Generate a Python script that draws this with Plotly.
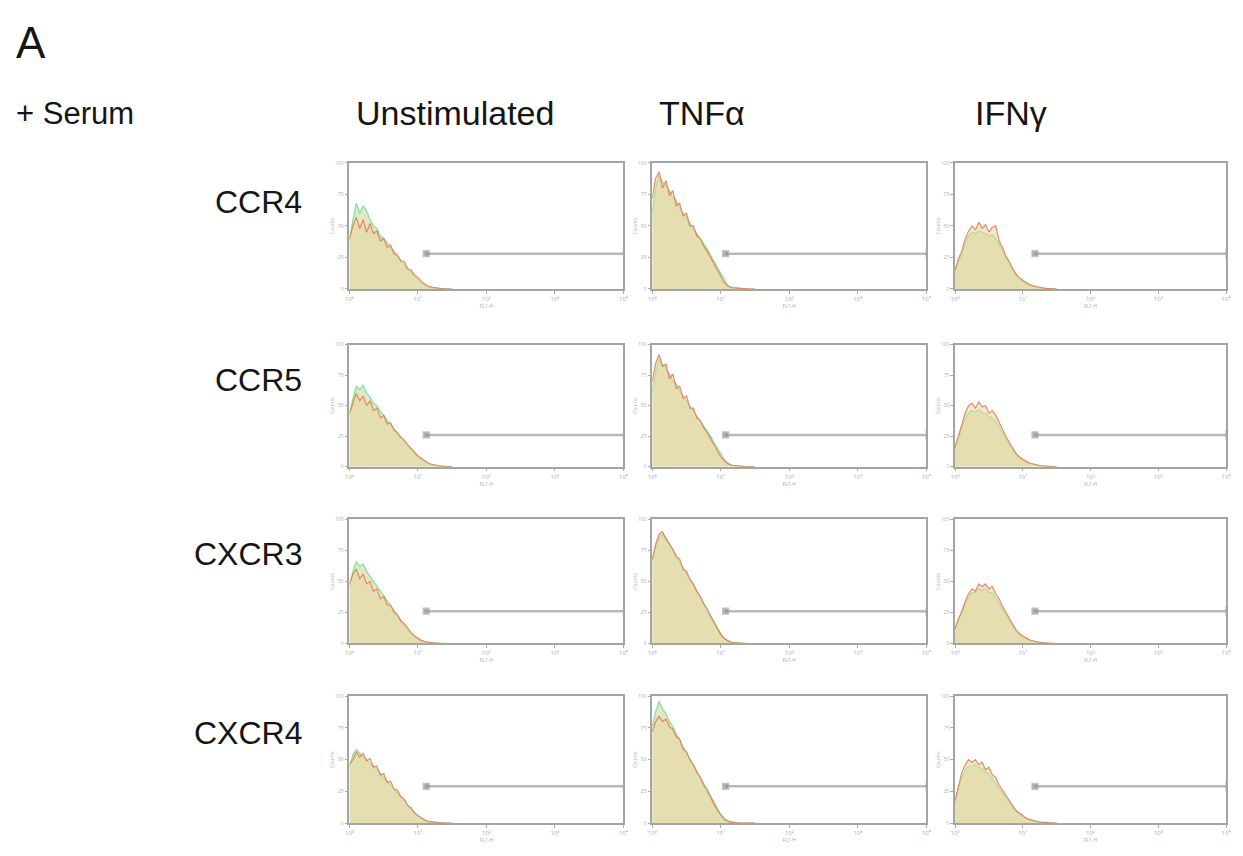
import plotly.graph_objects as go

W, H = 1243, 856

# ---------------- data ----------------
COLS = ["Unstimulated", "TNFα", "IFNγ"]
ROWS = ["CCR4", "CCR5", "CXCR3", "CXCR4"]

# log10 fluorescence positions of histogram channels
LOG_POS = [0.00, 0.05, 0.10, 0.15, 0.20, 0.25, 0.30, 0.35, 0.40, 0.45,
           0.50, 0.55, 0.60, 0.65, 0.70, 0.75, 0.80, 0.85, 0.90, 0.95,
           1.00, 1.05, 1.10, 1.15, 1.20, 1.25, 1.30, 1.35, 1.40, 1.45, 1.50]

# stained sample (orange) and control (green) counts, % of axis max
ccr4_unstim_stain = [40, 50, 57, 48, 55, 45, 52, 44, 46, 38, 40, 33, 35, 28, 27, 22, 22, 16, 15, 11, 9, 6, 4, 2, 1.5, 1, 0.6, 0.4, 0.2, 0.1, 0]
ccr4_unstim_ctrl = [38, 55, 68, 60, 66, 62, 55, 50, 48, 42, 40, 36, 33, 30, 26, 23, 19, 16, 13, 10, 8, 5, 3, 2, 1, 0.6, 0.4, 0.2, 0.1, 0, 0]
ccr4_tnf_stain = [72, 88, 93, 80, 86, 74, 78, 66, 68, 58, 60, 50, 50, 42, 40, 34, 30, 25, 20, 14, 9, 5, 2.5, 1.2, 0.8, 0.5, 0.3, 0.2, 0.1, 0, 0]
ccr4_tnf_ctrl = [60, 80, 90, 85, 82, 78, 72, 70, 64, 60, 55, 52, 47, 44, 40, 36, 32, 27, 22, 17, 12, 7, 3, 1.5, 1, 0.5, 0.3, 0.1, 0, 0, 0]
ccr4_ifn_stain = [15, 24, 30, 40, 46, 50, 47, 53, 48, 51, 45, 49, 50, 38, 33, 26, 22, 16, 12, 9, 7, 5, 3.5, 2.5, 1.8, 1.2, 0.8, 0.5, 0.3, 0.1, 0]
ccr4_ifn_ctrl = [14, 22, 28, 36, 42, 45, 44, 46, 45, 44, 42, 43, 40, 35, 30, 25, 20, 15, 11, 8, 6, 4, 3, 2, 1.5, 1, 0.6, 0.3, 0.2, 0.1, 0]

ccr5_unstim_stain = [44, 52, 60, 54, 58, 50, 54, 46, 48, 40, 42, 35, 36, 30, 28, 24, 22, 18, 15, 12, 9, 7, 5, 3, 2, 1.2, 0.8, 0.5, 0.3, 0.1, 0]
ccr5_unstim_ctrl = [42, 56, 66, 63, 67, 60, 57, 52, 50, 45, 42, 38, 35, 31, 27, 24, 20, 17, 14, 11, 8, 6, 4, 2.5, 1.5, 1, 0.6, 0.3, 0.1, 0, 0]
ccr5_tnf_stain = [70, 85, 92, 82, 84, 72, 76, 64, 66, 56, 58, 48, 48, 40, 38, 32, 28, 23, 18, 13, 8, 5, 2.5, 1.2, 0.8, 0.5, 0.3, 0.2, 0.1, 0, 0]
ccr5_tnf_ctrl = [62, 78, 88, 84, 80, 76, 70, 68, 62, 58, 54, 50, 46, 42, 38, 34, 30, 25, 20, 15, 10, 6, 3, 1.5, 1, 0.5, 0.3, 0.1, 0, 0, 0]
ccr5_ifn_stain = [16, 26, 34, 44, 50, 52, 48, 53, 49, 50, 44, 46, 42, 36, 30, 25, 20, 15, 11, 8, 6, 4.5, 3, 2.2, 1.5, 1, 0.7, 0.4, 0.2, 0.1, 0]
ccr5_ifn_ctrl = [15, 24, 32, 40, 44, 46, 45, 47, 44, 44, 41, 40, 37, 32, 28, 23, 18, 14, 10, 7, 5, 3.5, 2.5, 1.8, 1.2, 0.8, 0.5, 0.3, 0.1, 0, 0]

cxcr3_unstim_stain = [48, 56, 60, 52, 56, 48, 50, 42, 44, 36, 38, 31, 31, 25, 23, 18, 16, 12, 9, 6, 4, 2.5, 1.5, 1, 0.6, 0.4, 0.2, 0.1, 0, 0, 0]
cxcr3_unstim_ctrl = [46, 58, 66, 62, 64, 58, 54, 50, 46, 42, 38, 34, 30, 26, 22, 18, 15, 11, 8, 5.5, 3.5, 2.2, 1.3, 0.8, 0.5, 0.3, 0.1, 0, 0, 0, 0]
cxcr3_tnf_stain = [68, 80, 88, 90, 84, 80, 76, 70, 68, 60, 58, 52, 48, 42, 38, 32, 28, 22, 17, 12, 7, 4, 2, 1, 0.6, 0.4, 0.2, 0.1, 0, 0, 0]
cxcr3_tnf_ctrl = [66, 78, 86, 88, 85, 80, 75, 70, 66, 61, 56, 51, 47, 42, 37, 32, 27, 22, 17, 12, 8, 4.5, 2.5, 1.2, 0.7, 0.4, 0.2, 0.1, 0, 0, 0]
cxcr3_ifn_stain = [12, 20, 26, 34, 40, 44, 42, 48, 46, 48, 44, 46, 40, 36, 30, 25, 20, 15, 11, 8, 6, 4.5, 3, 2, 1.4, 1, 0.6, 0.4, 0.2, 0.1, 0]
cxcr3_ifn_ctrl = [12, 18, 25, 32, 37, 41, 41, 44, 43, 44, 41, 41, 37, 33, 28, 23, 18, 14, 10, 7, 5, 3.5, 2.5, 1.6, 1.1, 0.7, 0.4, 0.2, 0.1, 0, 0]

cxcr4_unstim_stain = [46, 50, 56, 52, 55, 49, 51, 44, 45, 38, 39, 32, 33, 27, 26, 21, 19, 14, 12, 8, 6, 4, 2.5, 1.5, 1, 0.6, 0.4, 0.2, 0.1, 0, 0]
cxcr4_unstim_ctrl = [44, 54, 58, 55, 52, 50, 47, 45, 42, 39, 36, 33, 30, 27, 24, 21, 18, 14, 11, 8, 5.5, 3.5, 2.2, 1.3, 0.8, 0.5, 0.3, 0.1, 0, 0, 0]
cxcr4_tnf_stain = [72, 80, 84, 80, 82, 76, 74, 68, 66, 58, 56, 50, 46, 40, 36, 30, 26, 20, 15, 10, 6, 3, 1.5, 0.8, 0.5, 0.3, 0.2, 0.1, 0, 0, 0]
cxcr4_tnf_ctrl = [76, 88, 96, 90, 86, 80, 76, 70, 66, 60, 56, 50, 46, 41, 36, 31, 26, 21, 16, 11, 7, 4, 2, 1, 0.5, 0.3, 0.1, 0, 0, 0, 0]
cxcr4_ifn_stain = [18, 30, 40, 46, 50, 48, 50, 46, 48, 42, 44, 38, 36, 30, 26, 22, 18, 14, 10, 8, 6, 4, 3, 2, 1.4, 1, 0.6, 0.3, 0.2, 0.1, 0]
cxcr4_ifn_ctrl = [16, 28, 36, 42, 45, 45, 46, 44, 43, 40, 39, 35, 32, 28, 24, 20, 16, 12, 9, 7, 5, 3.5, 2.5, 1.6, 1.1, 0.7, 0.4, 0.2, 0.1, 0, 0]

STAIN = [[ccr4_unstim_stain, ccr4_tnf_stain, ccr4_ifn_stain],
         [ccr5_unstim_stain, ccr5_tnf_stain, ccr5_ifn_stain],
         [cxcr3_unstim_stain, cxcr3_tnf_stain, cxcr3_ifn_stain],
         [cxcr4_unstim_stain, cxcr4_tnf_stain, cxcr4_ifn_stain]]
CTRL = [[ccr4_unstim_ctrl, ccr4_tnf_ctrl, ccr4_ifn_ctrl],
        [ccr5_unstim_ctrl, ccr5_tnf_ctrl, ccr5_ifn_ctrl],
        [cxcr3_unstim_ctrl, cxcr3_tnf_ctrl, cxcr3_ifn_ctrl],
        [cxcr4_unstim_ctrl, cxcr4_tnf_ctrl, cxcr4_ifn_ctrl]]

# marker gate (M1): start (log10) per column and level per row
GATE_START = [1.12, 1.07, 1.18]
GATE_LEVEL = [28, 26, 26, 29]
GATE_END = 4.0

X_TICKS = [1, 10, 100, 1000, 10000]
X_TICKTEXT = ["10⁰", "10¹", "10²", "10³", "10⁴"]
Y_TICKS = [0, 25, 50, 75, 100]
Y_TICKTEXT = ["0", "25", "50", "75", "100"]

# ---------------- layout geometry (pixels) ----------------
COL_PX = [(348, 624), (653, 929), (958, 1231)]
ROW_PX = [(161, 288), (344, 467), (520, 645), (698, 826)]

FONT = "Liberation Sans, Arial, sans-serif"

fig = go.Figure()
layout = dict(
    width=W, height=H, margin=dict(l=0, r=0, t=0, b=0),
    paper_bgcolor="white", plot_bgcolor="white", showlegend=False,
)

xs = [10 ** p for p in LOG_POS]
k = 0
for r in range(len(ROWS)):
    for c in range(len(COLS)):
        k += 1
        xa = "x" if k == 1 else f"x{k}"
        ya = "y" if k == 1 else f"y{k}"
        x0, x1 = COL_PX[c]
        y0, y1 = ROW_PX[r]
        layout["xaxis" if k == 1 else f"xaxis{k}"] = dict(
            domain=[x0 / W, x1 / W], anchor=ya, type="log", range=[0, 4],
            showgrid=False, zeroline=False, showline=True, mirror=True,
            linecolor="#a4a4a4", linewidth=1.5,
            tickvals=X_TICKS, ticktext=X_TICKTEXT, ticks="outside", ticklen=3,
            tickcolor="#aaaaaa", tickfont=dict(size=6, color="#aaaaaa"),
            title=dict(text="FL1-H", font=dict(size=5, color="#aaaaaa"), standoff=1),
        )
        layout["yaxis" if k == 1 else f"yaxis{k}"] = dict(
            domain=[1 - y1 / H, 1 - y0 / H], anchor=xa, range=[0, 100],
            showgrid=False, zeroline=False, showline=True, mirror=True,
            linecolor="#a4a4a4", linewidth=1.5,
            tickvals=Y_TICKS, ticktext=Y_TICKTEXT, ticks="outside", ticklen=3,
            tickcolor="#aaaaaa", tickfont=dict(size=5, color="#b0b0b0"),
            title=dict(text="Counts", font=dict(size=5, color="#b0b0b0"), standoff=0),
        )
        # control histogram (green)
        fig.add_trace(go.Scatter(
            x=xs, y=CTRL[r][c], xaxis=xa, yaxis=ya, mode="lines",
            line=dict(color="rgba(110,220,150,0.85)", width=1.2),
            fill="tozeroy", fillcolor="rgba(214,226,178,0.75)", hoverinfo="skip"))
        # stained histogram (orange)
        fig.add_trace(go.Scatter(
            x=xs, y=STAIN[r][c], xaxis=xa, yaxis=ya, mode="lines",
            line=dict(color="rgba(232,120,80,0.85)", width=1.2),
            fill="tozeroy", fillcolor="rgba(232,214,160,0.55)", hoverinfo="skip"))
        # gate
        gx = [10 ** GATE_START[c], 10 ** GATE_END]
        gy = [GATE_LEVEL[r], GATE_LEVEL[r]]
        fig.add_trace(go.Scatter(
            x=gx, y=gy, xaxis=xa, yaxis=ya, mode="lines+markers", cliponaxis=False,
            line=dict(color="#b8b8b8", width=2.5),
            marker=dict(symbol=["square", "line-ns-open"], size=[6, 7],
                        color="#8c8c8c", line=dict(color="#a8a8a8", width=1.2)),
            hoverinfo="skip"))

# ---------------- text ----------------
ann = []
def px_text(text, x, y, size, xanchor="left"):
    ann.append(dict(text=text, x=x / W, y=1 - y / H, xref="paper", yref="paper",
                    xanchor=xanchor, yanchor="middle", showarrow=False,
                    font=dict(family=FONT, size=size, color="#151515")))

px_text("A", 10, 40, 44)
px_text("+ Serum", 10, 111, 31)
px_text(COLS[0], 353, 111, 34)
px_text(COLS[1], 658, 111, 34)
px_text(COLS[2], 976, 111, 34)
ROW_LABEL_Y = [200, 380, 555, 735]
for name, yy in zip(ROWS, ROW_LABEL_Y):
    px_text(name, 302, yy, 32, xanchor="right")

layout["annotations"] = ann
fig.update_layout(**layout)
fig.write_html("out.html")
